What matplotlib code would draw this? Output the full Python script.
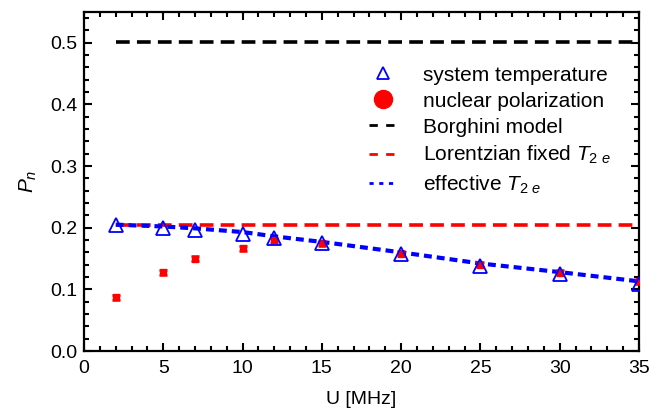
import matplotlib
matplotlib.use("Agg")
import matplotlib.pyplot as plt
from matplotlib.ticker import MultipleLocator

plt.rcParams['font.family'] = ['Liberation Sans', 'DejaVu Sans']
plt.rcParams['mathtext.fontset'] = 'custom'
plt.rcParams['mathtext.it'] = 'Liberation Sans:italic'
plt.rcParams['mathtext.rm'] = 'Liberation Sans'

# --- data ---
u_mhz = [2, 5, 7, 10, 12, 15, 20, 25, 30, 35]
p_system = [0.204, 0.200, 0.196, 0.190, 0.183, 0.175, 0.158, 0.138, 0.125, 0.109]
p_nuclear = [0.087, 0.128, 0.150, 0.167, 0.180, 0.175, 0.158, 0.140, 0.127, 0.113]
p_nuclear_err = [0.004, 0.004, 0.004, 0.004, 0.004, 0.004, 0.004, 0.004, 0.004, 0.004]

borghini_u = [2, 35]
borghini_p = [0.502, 0.502]
lorentz_u = [2, 35]
lorentz_p = [0.205, 0.205]
eff_u = [2, 5, 7, 10, 12, 15, 20, 25, 30, 35]
eff_p = [0.205, 0.202, 0.199, 0.193, 0.186, 0.177, 0.160, 0.142, 0.128, 0.113]

fig = plt.figure(figsize=(6.68, 4.12), dpi=100)
ax = fig.add_axes([84 / 668, 1 - 351 / 412, 555 / 668, 339 / 412])

ax.plot(borghini_u, borghini_p, color='black', ls=(0, (3.8, 2.0)), lw=2.6, zorder=2)
ax.plot(lorentz_u, lorentz_p, color='red', ls=(0, (3.8, 2.0)), lw=2.6, zorder=2)
ax.plot(eff_u, eff_p, color='blue', ls=(0, (1.9, 1.2)), lw=3.0, zorder=3)

ax.errorbar(u_mhz, p_nuclear, yerr=p_nuclear_err, fmt='s', color='red', ms=4.5,
            capsize=3, elinewidth=1.8, capthick=1.8, zorder=4)
ax.plot(u_mhz, p_system, ls='none', marker='^', ms=10, mfc='none', mec='blue', mew=1.3, zorder=5)

# legend proxies
h_sys, = ax.plot([], [], ls='none', marker='^', ms=9, mfc='none', mec='blue', mew=1.3)
h_nuc, = ax.plot([], [], ls='none', marker='o', ms=13, color='red')
h_bor, = ax.plot([], [], color='black', ls=(0, (3, 3)), lw=2)
h_lor, = ax.plot([], [], color='red', ls=(0, (3, 3)), lw=2)
h_eff, = ax.plot([], [], color='blue', ls=(0, (1.5, 2)), lw=2)
handles = [h_sys, h_nuc, h_bor, h_lor, h_eff]
labels = ['system temperature', 'nuclear polarization', 'Borghini model',
          'Lorentzian fixed $T_{2\\ e}$', 'effective $T_{2\\ e}$']
ax.legend(handles, labels, loc='upper right', bbox_to_anchor=(0.976, 0.885),
          frameon=False, fontsize=15, handlelength=1.35, labelspacing=0.34,
          handletextpad=1.25, borderpad=0.2)

ax.set_xlim(0, 35)
ax.set_ylim(0, 0.55)
ax.xaxis.set_major_locator(MultipleLocator(5))
ax.xaxis.set_minor_locator(MultipleLocator(1))
ax.yaxis.set_major_locator(MultipleLocator(0.1))
ax.yaxis.set_minor_locator(MultipleLocator(0.02))
ax.yaxis.set_major_formatter(plt.FormatStrFormatter('%.1f'))
ax.tick_params(which='both', direction='in', top=True, right=True, labelsize=14, width=1.5)
ax.tick_params(which='major', length=6)
ax.tick_params(which='minor', length=3.5)
ax.tick_params(axis='x', pad=6.5)
ax.tick_params(axis='y', pad=5)
for s in ax.spines.values():
    s.set_linewidth(1.6)

ax.set_xlabel('U [MHz]', fontsize=14, labelpad=10)
ax.set_ylabel('$P_n$', fontsize=15, labelpad=8)

fig.savefig('out.png', dpi=100)
